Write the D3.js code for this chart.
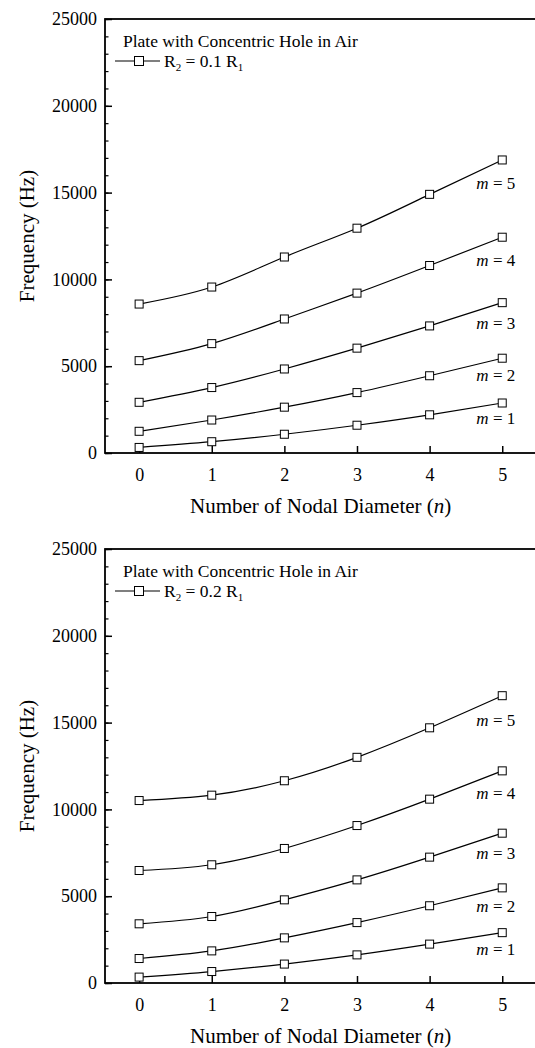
<!DOCTYPE html>
<html>
<head>
<meta charset="utf-8">
<script src="https://cdn.jsdelivr.net/npm/d3@7/dist/d3.min.js"></script>
<style>
	body { margin: 0; background: #fff; }
	svg { display: block; }
</style>
</head>
<body>
<div id="chart"></div>
<script>
// nodal diameters on the x axis
var nodal = [0, 1, 2, 3, 4, 5];
var modeNames = ["1", "2", "3", "4", "5"];
var yTicks = [0, 5000, 10000, 15000, 20000, 25000];
var xTicks = [0, 1, 2, 3, 4, 5];

// R2 = 0.1 R1, one row per m
var hole01 = [
	[320, 650, 1080, 1600, 2200, 2880],
	[1250, 1900, 2640, 3480, 4450, 5460],
	[2920, 3770, 4840, 6040, 7320, 8660],
	[5320, 6300, 7720, 9210, 10800, 12430],
	[8580, 9560, 11290, 12950, 14900, 16880]
];
// where the "m = .." labels sit (in Hz)
var labelAt01 = [2000, 4480, 7480, 11100, 15550];

// R2 = 0.2 R1
var hole02 = [
	[340, 660, 1090, 1620, 2240, 2900],
	[1410, 1850, 2600, 3480, 4450, 5480],
	[3410, 3830, 4790, 5940, 7250, 8630],
	[6480, 6810, 7750, 9070, 10590, 12220],
	[10510, 10820, 11650, 13000, 14700, 16550]
];
var labelAt02 = [1960, 4440, 7490, 10940, 15150];

var font = "'Liberation Serif', 'Times New Roman', serif";

var svg = d3.select("#chart")
	.append("svg")
	.attr("width", 535)
	.attr("height", 1048);

makeChart(0, hole01, labelAt01, "0.1");
makeChart(530, hole02, labelAt02, "0.2");

function makeChart(offsetY, series, labelAt, ratio) {
	var left = 105, right = 540;
	var top = 19 + offsetY, bottom = 453 + offsetY;

	var x = d3.scaleLinear().domain([-0.47, 5.52]).range([left, right]);
	var y = d3.scaleLinear().domain([0, 25000]).range([bottom, top]);

	var g = svg.append("g");

	// minor y ticks every 1000
	g.append("g")
		.attr("transform", `translate(${left},0)`)
		.call(d3.axisLeft(y).tickValues(d3.range(0, 25001, 1000)).tickSize(-3.5).tickFormat(""))
		.call(s => s.select(".domain").remove())
		.selectAll("line").attr("stroke-width", 1.2);

	// major y ticks with labels
	var ya = g.append("g")
		.attr("transform", `translate(${left},0)`)
		.call(d3.axisLeft(y).tickValues(yTicks).tickSize(-7).tickPadding(8).tickFormat(d3.format("d")));
	ya.select(".domain").remove();
	ya.selectAll("line").attr("stroke-width", 1.5);
	ya.selectAll("text").style("font-family", font).style("font-size", "18px").attr("fill", "#000");

	// x ticks
	var xa = g.append("g")
		.attr("transform", `translate(0,${bottom})`)
		.call(d3.axisBottom(x).tickValues(xTicks).tickSize(-7).tickPadding(15).tickFormat(d3.format("d")));
	xa.select(".domain").remove();
	xa.selectAll("line").attr("stroke-width", 1.5);
	xa.selectAll("text").style("font-family", font).style("font-size", "18px").attr("fill", "#000");

	// frame (right side runs off the page)
	g.append("rect")
		.attr("x", left)
		.attr("y", top)
		.attr("width", right - left + 10)
		.attr("height", bottom - top)
		.attr("fill", "none")
		.attr("stroke", "#000")
		.attr("stroke-width", 1.8);

	var line = d3.line()
		.x((d, i) => x(nodal[i]))
		.y(d => y(d))
		.curve(d3.curveNatural);

	series.forEach(function (vals, k) {
		g.append("path")
			.attr("d", line(vals))
			.attr("fill", "none")
			.attr("stroke", "#000")
			.attr("stroke-width", 1.2);

		g.selectAll(null)
			.data(vals)
			.enter()
			.append("rect")
			.attr("x", (d, i) => x(nodal[i]) - 4)
			.attr("y", d => y(d) - 4)
			.attr("width", 8)
			.attr("height", 8)
			.attr("fill", "#fff")
			.attr("stroke", "#000")
			.attr("stroke-width", 1);

		var lab = g.append("text")
			.attr("x", x(5) + 13)
			.attr("y", y(labelAt[k]))
			.attr("dy", "0.35em")
			.style("text-anchor", "end")
			.style("font-family", font)
			.style("font-size", "17px");
		lab.append("tspan").text("m").style("font-style", "italic");
		lab.append("tspan").text(" = " + modeNames[k]);
	});

	// title and legend
	g.append("text")
		.attr("x", 123)
		.attr("y", top + 28)
		.style("font-family", font)
		.style("font-size", "17.5px")
		.text("Plate with Concentric Hole in Air");

	var ly = top + 42;
	g.append("line")
		.attr("x1", 115).attr("x2", 160)
		.attr("y1", ly).attr("y2", ly)
		.attr("stroke", "#000")
		.attr("stroke-width", 1.2);
	g.append("rect")
		.attr("x", 139 - 4.5).attr("y", ly - 4.5)
		.attr("width", 9).attr("height", 9)
		.attr("fill", "#fff")
		.attr("stroke", "#000");

	var leg = g.append("text")
		.attr("x", 164)
		.attr("y", ly + 6)
		.style("font-family", font)
		.style("font-size", "17.5px");
	leg.append("tspan").text("R");
	leg.append("tspan").text("2").style("font-size", "11px").attr("dy", 4);
	leg.append("tspan").text(" = " + ratio + " R").attr("dy", -4);
	leg.append("tspan").text("1").style("font-size", "11px").attr("dy", 4);

	// axis titles
	var xt = g.append("text")
		.attr("x", (x(0) + x(5)) / 2)
		.attr("y", bottom + 60)
		.style("text-anchor", "middle")
		.style("font-family", font)
		.style("font-size", "21px");
	xt.append("tspan").text("Number of Nodal Diameter (");
	xt.append("tspan").text("n").style("font-style", "italic");
	xt.append("tspan").text(")");

	g.append("text")
		.attr("transform", `translate(34,${(top + bottom) / 2}) rotate(-90)`)
		.style("text-anchor", "middle")
		.style("font-family", font)
		.style("font-size", "21px")
		.text("Frequency (Hz)");
}
</script>
</body>
</html>
